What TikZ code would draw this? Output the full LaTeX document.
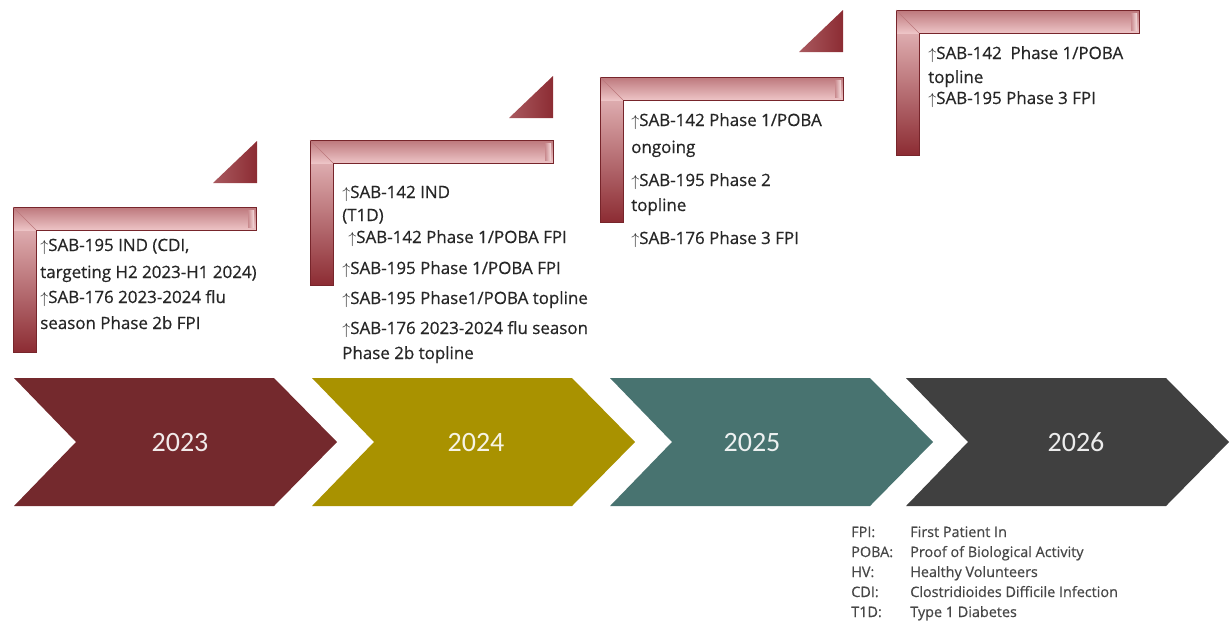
\documentclass[tikz,border=0pt]{standalone}
\usepackage{fontspec}
\setmainfont{Open Sans}[FakeBold=0.6]
\newfontfamily\yearfont{Carlito}
\definecolor{yrA}{HTML}{74292D}
\definecolor{yrB}{HTML}{A99200}
\definecolor{yrC}{HTML}{487370}
\definecolor{yrD}{HTML}{404040}
\definecolor{barlight}{HTML}{EDC4C6}
\definecolor{barmid}{HTML}{C98A8E}
\definecolor{bardark}{HTML}{8C2C33}
\definecolor{txt}{HTML}{262626}
\newcommand{\ua}{$\uparrow$}
\tikzset{
  item/.style={anchor=base west,inner sep=0pt,text=txt,font=\fontsize{12.7}{15}\selectfont},
  legend/.style={anchor=base west,inner sep=0pt,text=txt!85,font=\fontsize{10.8}{13}\selectfont},
  year/.style={font=\yearfont\fontsize{21}{25}\selectfont}
}
\begin{document}
\begin{tikzpicture}[x=0.75pt,y=-0.75pt]
\useasboundingbox (0,0) rectangle (1230,626);
\foreach \n/\x/\c/\m in{
2023/14/yrA/180,
2024/312/yrB/476,
2025/610/yrC/752,
2026/906/yrD/1076
}
{
  \fill[\c] (\x,378) -- ++(260,0) -- ++(63,64) -- ++(-63,64) -- ++(-260,0) -- ++(62,-64) -- cycle;
  \node[year,text=\c!10!white] (y\n) at (\m,442) {\n};
}
\foreach \b/\x/\y in{1/13/207, 2/310/140, 3/600/77, 4/896/10}
{
  \shade[top color=barlight,bottom color=bardark] (\x,\y) rectangle ++(23,145);
  \shade[top color=barmid!80!bardark,bottom color=barlight] (\x,\y) rectangle ++(243,23);
  \shade[left color=barmid,right color=barlight!60!white] (\x+235,\y+3) rectangle ++(6,17);
  \draw[bardark!85!black,line width=0.6pt] (\x,\y) -- ++(243,0) -- ++(0,23) -- ++(-220,0) -- ++(0,122) -- ++(-23,0) -- cycle;
  \draw[barlight!50!bardark,line width=0.5pt] (\x,\y) -- ++(23,23);
}
\foreach \x/\y in{257/183, 553/118, 843/52}
{
  \shade[left color=bardark!70!barlight,right color=bardark] (\x,\y) -- ++(-44,0) -- ++(44,-42) -- cycle;
}
\foreach \x/\y/\t [count=\i] in{
40/251/{\ua SAB-195 IND (CDI,},
40/278/{targeting H2 2023-H1 2024)},
40/303/{\ua SAB-176 2023-2024 flu},
40/329/{season Phase 2b FPI},
342/198/{\ua SAB-142 IND},
342/221/{(T1D)},
348/243/{\ua SAB-142 Phase 1/POBA FPI},
342/274/{\ua SAB-195 Phase 1/POBA FPI},
342/304/{\ua SAB-195 Phase1/POBA topline},
342/334/{\ua SAB-176 2023-2024 flu season},
342/359/{Phase 2b topline},
631/126/{\ua SAB-142 Phase 1/POBA},
631/153/{ongoing},
631/186/{\ua SAB-195 Phase 2},
631/211/{topline},
631/244/{\ua SAB-176 Phase 3 FPI},
928/59/{\ua SAB-142\ \ Phase 1/POBA},
928/83/{topline},
928/104/{\ua SAB-195 Phase 3 FPI}
}
{
  \node[item] (l\i) at (\x,\y) {\t};
}
\foreach \a/\d/\y [count=\i] in{
FPI:/First Patient In/537,
POBA:/Proof of Biological Activity/557,
HV:/Healthy Volunteers/577,
CDI:/Clostridioides Difficile Infection/597,
T1D:/Type 1 Diabetes/617
}
{
  \node[legend] (k\i) at (851,\y) {\a};
  \node[legend] (d\i) at (910,\y) {\d};
}
\end{tikzpicture}
\end{document}
